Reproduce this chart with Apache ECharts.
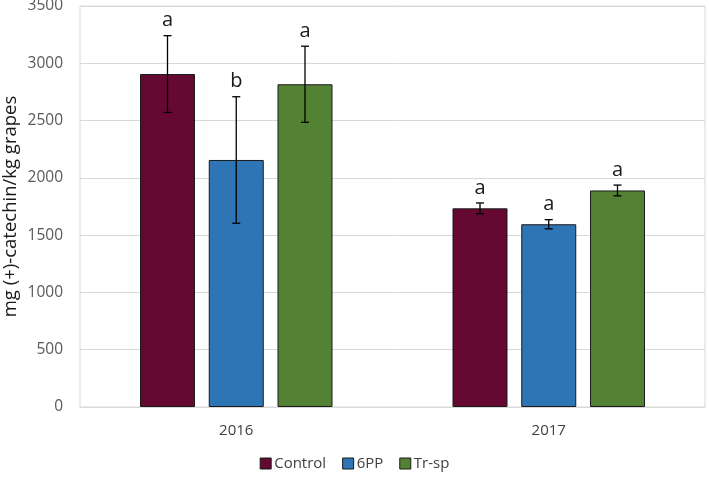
<!DOCTYPE html>
<html>
<head>
<meta charset="utf-8">
<script src="https://cdn.jsdelivr.net/npm/echarts@6/dist/echarts.min.js"></script>
<style>html,body{margin:0;padding:0;background:#fff}#c{width:709px;height:480px}</style>
</head>
<body>
<div id="c"></div>
<script>
var categories = ['2016', '2017'];
var seriesNames = ['Control', '6PP', 'Tr-sp'];
var colors = ['#650932', '#2E75B6', '#548235'];
var controlVals = [2906, 1734];
var ppVals = [2156, 1595];
var trspVals = [2817, 1890];
var controlErr = [335, 47];
var ppErr = [552, 40];
var trspErr = [332, 47];
var controlLetters = ['a', 'a'];
var ppLetters = ['b', 'a'];
var trspLetters = ['a', 'a'];
var yTicks = [0, 500, 1000, 1500, 2000, 2500, 3000, 3500];

var vals = [controlVals, ppVals, trspVals];
var errs = [controlErr, ppErr, trspErr];
var letters = [controlLetters, ppLetters, trspLetters];

var BW = 0.176, GAP = 0.25;
var font = '"Open Sans", "Liberation Sans", sans-serif';

var series = [];
vals.forEach(function (v, k) {
  series.push({
    name: seriesNames[k], type: 'bar', data: v,
    barWidth: (BW * 100) + '%', barGap: (GAP * 100) + '%',
    itemStyle: { color: colors[k], borderColor: '#1a1a1a', borderWidth: 1 }
  });
});
vals.forEach(function (v, k) {
  var data = v.map(function (m, i) { return [i, m - errs[k][i], m + errs[k][i], letters[k][i]]; });
  series.push({
    type: 'custom', silent: true, z: 10,
    data: data,
    encode: { x: 0, y: [1, 2] },
    renderItem: function (params, api) {
      var ci = api.value(0);
      var lo = api.coord([ci, api.value(1)]);
      var hi = api.coord([ci, api.value(2)]);
      var band = api.size([1, 0])[0];
      var bw = band * BW;
      var x = lo[0] + (k - 1) * bw * (1 + GAP);
      var cap = 4;
      var st = { stroke: '#000', lineWidth: 1.3 };
      return {
        type: 'group', children: [
          { type: 'line', shape: { x1: x, y1: lo[1], x2: x, y2: hi[1] }, style: st },
          { type: 'line', shape: { x1: x - cap, y1: lo[1], x2: x + cap, y2: lo[1] }, style: st },
          { type: 'line', shape: { x1: x - cap, y1: hi[1], x2: x + cap, y2: hi[1] }, style: st },
          { type: 'text', style: { text: data[params.dataIndex][3], x: x, y: hi[1] - 5, align: 'center', verticalAlign: 'bottom', fill: '#1a1a1a', font: '20px ' + font } }
        ]
      };
    }
  });
});

var chart = echarts.init(document.getElementById('c'));
chart.setOption({
  animation: false,
  backgroundColor: '#fff',
  grid: { left: 80, right: 4, top: 6, bottom: 73, show: true, borderColor: '#d9d9d9', borderWidth: 1, containLabel: false, outerBoundsMode: 'none' },
  legend: {
    data: seriesNames, bottom: 4, left: 'center', itemWidth: 11, itemHeight: 11, itemGap: 16,
    icon: 'rect',
    itemStyle: { borderColor: '#1a1a1a', borderWidth: 1 },
    textStyle: { color: '#404040', fontSize: 15, fontFamily: font, padding: [0, 0, 0, -2] }
  },
  xAxis: {
    type: 'category', data: categories,
    axisLine: { lineStyle: { color: '#d9d9d9' } }, axisTick: { show: false },
    axisLabel: { color: '#404040', fontSize: 15, fontFamily: font, margin: 16 }
  },
  yAxis: {
    type: 'value', min: 0, max: 3500, interval: 500,
    name: 'mg (+)-catechin/kg grapes', nameLocation: 'middle', nameGap: 60, nameRotate: 90,
    nameMoveOverlap: false,
    nameTextStyle: { color: '#1a1a1a', fontSize: 18.5, fontFamily: font },
    axisLine: { show: false }, axisTick: { show: false },
    splitLine: { lineStyle: { color: '#d9d9d9', width: 1 } },
    axisLabel: { color: '#595959', fontSize: 15.5, fontFamily: font, margin: 17,
      formatter: function (v) { return yTicks.indexOf(v) >= 0 ? String(v) : ''; } }
  },
  series: series
});
</script>
</body>
</html>
